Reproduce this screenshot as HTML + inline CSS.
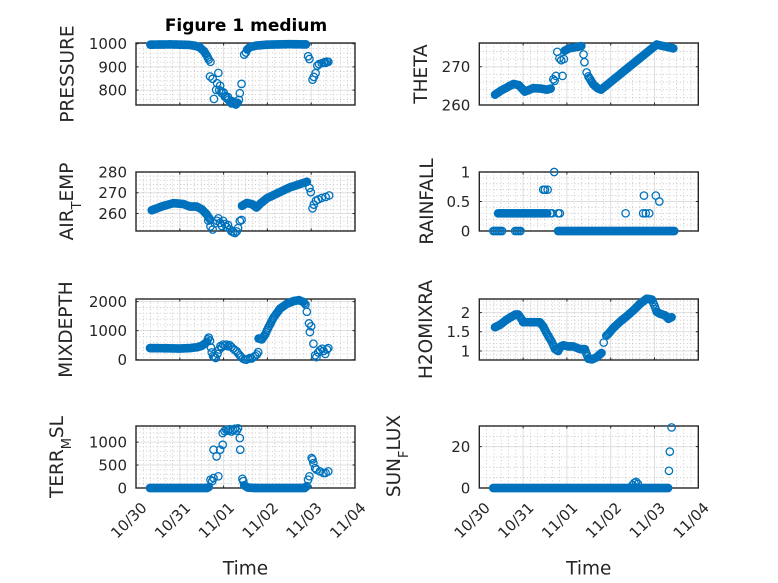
<!DOCTYPE html>
<html><head><meta charset="utf-8"><style>
html,body{margin:0;padding:0;background:#fff;}
svg{display:block;}
text{font-family:"DejaVu Sans","Liberation Sans",sans-serif;fill:#262626;}
.tk{font-size:15px;}
.yl{font-size:18.5px;}
</style></head><body>
<svg id="s" width="778" height="583" viewBox="0 0 778 583" xmlns="http://www.w3.org/2000/svg">
<rect width="778" height="583" fill="#fff"/>
<g id="plots"></g>
<text x="246" y="31" text-anchor="middle" font-size="17" font-weight="bold" style="fill:#000">Figure 1 medium</text>

<!-- Y tick labels -->
<g class="tk" text-anchor="end">
<text x="127" y="49.1">1000</text><text x="127" y="72.3">900</text><text x="127" y="95.5">800</text>
<text x="470.3" y="72.1">270</text><text x="470.3" y="110.4">260</text>
<text x="127" y="177.4">280</text><text x="127" y="198.2">270</text><text x="127" y="218.9">260</text>
<text x="470.3" y="177.4">1</text><text x="470.3" y="206.9">0.5</text><text x="470.3" y="236.4">0</text>
<text x="127" y="307">2000</text><text x="127" y="336">1000</text><text x="127" y="365.1">0</text>
<text x="470.3" y="318">2</text><text x="470.3" y="337.2">1.5</text><text x="470.3" y="356.4">1</text>
<text x="127" y="447.5">1000</text><text x="127" y="470.4">500</text><text x="127" y="493.4">0</text>
<text x="470.3" y="452.1">20</text><text x="470.3" y="493.4">0</text>
</g>

<!-- X tick labels -->
<g class="tk" text-anchor="end">
<text transform="translate(144,505) rotate(-45)" dy="0.35em">10/30</text>
<text transform="translate(187.8,505) rotate(-45)" dy="0.35em">10/31</text>
<text transform="translate(231.6,505) rotate(-45)" dy="0.35em">11/01</text>
<text transform="translate(275.4,505) rotate(-45)" dy="0.35em">11/02</text>
<text transform="translate(319.2,505) rotate(-45)" dy="0.35em">11/03</text>
<text transform="translate(363,505) rotate(-45)" dy="0.35em">11/04</text>
<text transform="translate(487.3,505) rotate(-45)" dy="0.35em">10/30</text>
<text transform="translate(531.1,505) rotate(-45)" dy="0.35em">10/31</text>
<text transform="translate(574.9,505) rotate(-45)" dy="0.35em">11/01</text>
<text transform="translate(618.7,505) rotate(-45)" dy="0.35em">11/02</text>
<text transform="translate(662.5,505) rotate(-45)" dy="0.35em">11/03</text>
<text transform="translate(706.3,505) rotate(-45)" dy="0.35em">11/04</text>
</g>

<!-- Y labels -->
<g class="yl" text-anchor="middle">
<text transform="translate(73.5,74) rotate(-90)">PRESSURE</text>
<text transform="translate(427,74) rotate(-90)">THETA</text>
<text transform="translate(73,201.5) rotate(-90)">AIR<tspan dy="8" font-size="13">T</tspan><tspan dy="-8">EMP</tspan></text>
<text transform="translate(433,201.5) rotate(-90)">RAINFALL</text>
<text transform="translate(72,329.5) rotate(-90)">MIXDEPTH</text>
<text transform="translate(432,329.5) rotate(-90)">H2OMIXRA</text>
<text transform="translate(63,457) rotate(-90)">TERR<tspan dy="8" font-size="13">M</tspan><tspan dy="-8">SL</tspan></text>
<text transform="translate(400,456) rotate(-90)">SUN<tspan dy="8" font-size="13">F</tspan><tspan dy="-8">LUX</tspan></text>
</g>

<!-- X labels -->
<text class="yl" x="245.5" y="574.5" text-anchor="middle">Time</text>
<text class="yl" x="588.8" y="574.5" text-anchor="middle">Time</text>
</svg>
<script>
(function(){
var C='#0072BD';
function dense(kp,dt){
  var out=[];dt=dt||0.021;
  for(var i=0;i<kp.length-1;i++){
    var a=kp[i],b=kp[i+1];
    var n=Math.max(1,Math.round((b[0]-a[0])/dt));
    for(var j=0;j<n;j++){var f=j/n;out.push([a[0]+(b[0]-a[0])*f,a[1]+(b[1]-a[1])*f]);}
  }
  out.push(kp[kp.length-1]);
  return out;
}
function flat(ts,v){return ts.map(function(t){return [t,v];});}
var L=[136,355],R=[479.3,698.3];
var panels=[
 {x:L,y:[43,105],yl:[736,1003],maj:100,ms:20,data:[].concat(
   dense([[0.33,996],[0.8,997],[1.2,995],[1.35,991],[1.45,985],[1.55,968],[1.62,948],[1.66,932]]),
   [[1.70,922],[1.69,859],[1.75,849],[1.78,762],[1.88,874],[1.83,801],[1.92,819],[1.96,787],[1.85,830],[1.9,800],[1.95,795],[2.0,790],[2.03,772],[2.05,775],[2.07,765],[2.1,770],[2.11,758],[2.15,750],[2.18,743],[2.2,752],[2.22,745],[2.25,748],[2.26,740],[2.28,738],[2.3,742],[2.32,745],[2.35,758],[2.37,787],[2.41,827],[2.47,953],[2.51,962]],
   dense([[2.54,975],[2.6,985],[2.75,992],[3.0,996],[3.5,998],[3.88,997]]),
   [[3.93,946],[3.96,934],[4.03,845],[4.06,857],[4.1,873],[4.14,905],[4.18,912],[4.24,916],[4.28,918],[4.3,920],[4.33,918],[4.36,923],[4.39,922]]
 )},
 {x:R,y:[43,105],yl:[260,276.2],maj:10,ms:2,data:[].concat(
   dense([[0.36,262.7],[0.5,263.8],[0.78,265.5],[0.9,265.2],[1.04,263.5],[1.23,264.4],[1.4,264.3],[1.54,264.0],[1.63,264.3]]),
   [[1.69,266.7],[1.75,267.6],[1.9,267.6],[1.72,266.3],[1.78,273.9],[1.83,272.2],[1.87,271.7],[1.93,272.0]],
   dense([[1.95,274.2],[2.05,274.8],[2.15,275.0],[2.25,275.2],[2.33,275.4]]),
   [[2.38,273.2],[2.40,271.2],[2.45,268.5]],
   dense([[2.49,267.5],[2.6,265.4],[2.7,264.4],[2.78,264.0],[4.05,275.8],[4.2,275.4],[4.43,274.8]])
 )},
 {x:L,y:[172,231],yl:[251.6,280],maj:10,ms:2,data:[].concat(
   dense([[0.36,261.6],[0.6,263.5],[0.85,265.0],[1.08,264.6],[1.23,263.4],[1.38,263.4],[1.5,262.1],[1.61,259.7],[1.69,257.2]]),
   [[1.65,256.6],[1.70,253.8],[1.75,252.3],[1.80,255.3],[1.85,256.5],[1.88,257.7],[1.92,255.5],[1.96,254],[1.99,256.5],[2.03,255],[2.07,253.5],[2.1,254.5],[2.15,252.3],[2.18,251.4],[2.22,251.0],[2.26,250.6],[2.3,251.4],[2.33,253],[2.37,256.4],[2.41,256.9]],
   dense([[2.42,263.7],[2.53,265.1],[2.65,264.5],[2.75,262.9],[2.85,265],[3.0,267.5],[3.5,272.5],[3.9,275.3]]),
   [[3.96,272.3],[3.99,270.3],[4.03,262.5],[4.06,264.3],[4.11,266.2],[4.16,266.8],[4.24,267.5],[4.33,268],[4.41,268.7]]
 )},
 {x:R,y:[172,231],yl:[0,1],maj:0.5,ms:0.1,data:[].concat(
   flat([0.32,0.36,0.40,0.44,0.48,0.52,0.82,0.86,0.90,0.94],0),
   dense([[0.43,0.3],[1.55,0.3]]),
   flat([1.62,1.66,1.80,1.84],0.3),
   flat([1.46,1.50,1.56],0.7),[[1.71,1.0]],
   dense([[1.80,0],[4.45,0]]),
   flat([3.34,3.74,3.80,3.88],0.3),[[3.76,0.6],[4.03,0.6],[4.11,0.5]]
 )},
 {x:L,y:[299,360],yl:[-10,2090],maj:1000,ms:200,data:[].concat(
   dense([[0.32,400],[0.7,395],[1.0,385],[1.23,400],[1.4,430],[1.5,480],[1.58,560],[1.62,620]]),
   [[1.64,700],[1.66,760],[1.69,650],[1.71,420],[1.73,250],[1.76,130],[1.79,90],[1.82,60],[1.86,200],[1.9,350],[1.93,470],[1.96,430],[1.99,520],[2.03,480],[2.07,520],[2.1,460],[2.14,500],[2.18,440],[2.22,380],[2.26,330],[2.3,290],[2.33,220],[2.37,150],[2.4,90],[2.44,40],[2.48,10],[2.52,0],[2.56,30],[2.6,60],[2.64,40],[2.68,90],[2.72,130],[2.76,180],[2.79,260]],
   dense([[2.8,730],[2.87,700],[2.95,870],[3.02,1100],[3.14,1450],[3.29,1760],[3.44,1920],[3.6,2020],[3.72,2050],[3.82,1990],[3.87,1900]]),
   [[3.9,1650],[3.95,1250],[3.97,950],[4.0,1150],[4.05,550],[4.09,150],[4.12,90],[4.16,250],[4.2,330],[4.25,380],[4.28,300],[4.32,200],[4.36,350],[4.39,400]]
 )},
 {x:R,y:[299,360],yl:[0.766,2.354],maj:0.5,ms:0.1,data:[].concat(
   dense([[0.36,1.62],[0.47,1.68],[0.63,1.82],[0.82,1.95],[0.89,1.95],[0.97,1.82],[1.0,1.75],[1.38,1.75],[1.46,1.64],[1.54,1.46],[1.65,1.25],[1.73,1.05],[1.80,1.0],[1.86,1.12],[1.92,1.15],[2.03,1.12],[2.15,1.12],[2.30,1.05],[2.41,1.05],[2.45,0.92],[2.49,0.8],[2.57,0.78],[2.68,0.84],[2.79,0.95]]),
   [[2.84,1.22]],
   dense([[2.9,1.4],[2.95,1.45],[3.06,1.6],[3.21,1.76],[3.36,1.9],[3.52,2.06],[3.67,2.23],[3.82,2.36],[3.94,2.34],[4.01,2.15],[4.05,2.02],[4.13,1.97],[4.24,1.93],[4.32,1.84],[4.39,1.88]])
 )},
 {x:L,y:[426,488],yl:[0,1350],maj:500,ms:100,data:[].concat(
   dense([[0.32,0],[1.62,0],[1.66,20]]),
   [[1.70,181],[1.74,150],[1.77,217],[1.88,254],[1.77,833],[1.84,688],[1.92,833],[1.98,942],[1.98,1196],[2.02,1240],[2.06,1270],[2.10,1250],[2.14,1280],[2.18,1230],[2.22,1260],[2.26,1290],[2.30,1250],[2.33,1300],[2.37,1087],[2.38,833],[2.43,200],[2.45,150]],
   dense([[2.47,60],[2.55,10],[2.7,0],[3.85,0],[3.9,40]]),
   [[3.93,181],[3.96,254],[4.01,652],[4.03,620],[4.05,543],[4.09,434],[4.12,398],[4.2,362],[4.28,326],[4.33,330],[4.39,362]]
 )},
 {x:R,y:[426,488],yl:[0,30],maj:20,ms:5,data:[].concat(
   dense([[0.32,0],[4.31,0]]),
   [[3.5,1.5],[3.54,2.5],[3.58,3],[3.62,2],[4.33,8.3],[4.35,17.6],[4.39,29.3]]
 )}
];
var s='';
panels.forEach(function(p){
  var x0=p.x[0],x1=p.x[1],y0=p.y[0],y1=p.y[1];
  var sx=function(t){return x0+t/5*(x1-x0);};
  var sy=function(v){return y1-(v-p.yl[0])/(p.yl[1]-p.yl[0])*(y1-y0);};
  var mn='',mj='',tk='';
  for(var k=1;k<30;k++){ if(k%6===0)continue; var x=sx(k/6).toFixed(2); mn+='M'+x+' '+y0+'V'+y1; }
  var ratio=Math.round(p.maj/p.ms);
  var kA=Math.ceil(p.yl[0]/p.ms-1e-6),kB=Math.floor(p.yl[1]/p.ms+1e-6);
  for(k=kA;k<=kB;k++){
    var y=sy(k*p.ms).toFixed(2);
    if(k%ratio===0){ if(Math.abs(y-y0)>0.5&&Math.abs(y-y1)>0.5) mj+='M'+x0+' '+y+'H'+x1; tk+='M'+x0+' '+y+'h2.5M'+x1+' '+y+'h-2.5'; }
    else mn+='M'+x0+' '+y+'H'+x1;
  }
  for(k=1;k<5;k++){ x=sx(k).toFixed(2); mj+='M'+x+' '+y0+'V'+y1; tk+='M'+x+' '+y1+'v-2.5M'+x+' '+y0+'v2.5'; }
  s+='<path d="'+mn+'" stroke="#262626" stroke-opacity="0.3" stroke-width="0.8" stroke-dasharray="1 2.4" fill="none"/>';
  s+='<path d="'+mj+'" stroke="#262626" stroke-opacity="0.15" stroke-width="1" fill="none"/>';
  s+='<rect x="'+x0+'" y="'+y0+'" width="'+(x1-x0)+'" height="'+(y1-y0)+'" fill="none" stroke="#262626" stroke-width="1.4"/>';
  s+='<path d="'+tk+'" stroke="#262626" stroke-width="1" fill="none"/>';
  var r=3.7,d='';
  p.data.forEach(function(q){
    var cx=sx(q[0]),cy=sy(q[1]);
    d+='M'+(cx-r).toFixed(2)+' '+cy.toFixed(2)+'a'+r+' '+r+' 0 1 0 '+(2*r)+' 0a'+r+' '+r+' 0 1 0 '+(-2*r)+' 0';
  });
  s+='<path d="'+d+'" stroke="'+C+'" stroke-width="1.3" fill="none"/>';
});
document.getElementById('plots').innerHTML=s;
})();
</script>
</body></html>
